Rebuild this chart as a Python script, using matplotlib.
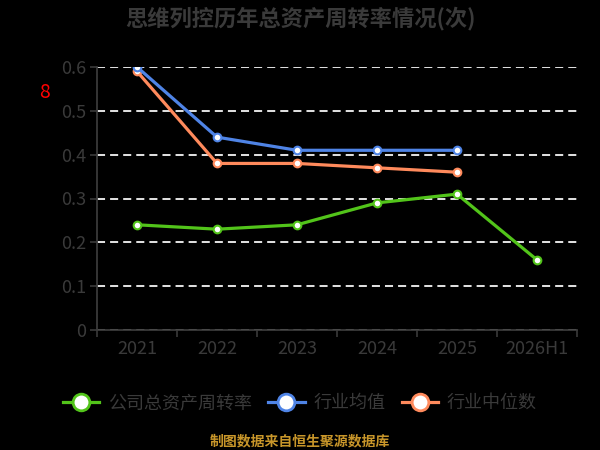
import matplotlib
matplotlib.use("Agg")
import matplotlib.pyplot as plt
from matplotlib.lines import Line2D

plt.rcParams['font.family'] = ['Noto Sans CJK SC', 'DejaVu Sans']

# data
years = ['2021', '2022', '2023', '2024', '2025', '2026H1']
company = [0.24, 0.23, 0.24, 0.29, 0.31, 0.16]
industry_avg = [0.60, 0.44, 0.41, 0.41, 0.41]
industry_median = [0.59, 0.38, 0.38, 0.37, 0.36]

title = '思维列控历年总资产周转率情况(次)'
names = ['公司总资产周转率', '行业均值', '行业中位数']
colors = ['#52c41a', '#4f84e6', '#ff8a5c']
source = '制图数据来自恒生聚源数据库'

text_color = '#3a3a3a'
bg = 'black'

fig = plt.figure(figsize=(6, 4.5), dpi=100, facecolor=bg)
ax = fig.add_axes([97 / 600, 1 - 330 / 450, 480 / 600, 263 / 450])
ax.set_facecolor(bg)

x_all = list(range(len(years)))
series = [company, industry_avg, industry_median]
# green below, blue on top
for vals, col, z in zip(series, colors, [3, 5, 4]):
    xs = x_all[:len(vals)]
    ax.plot(xs, vals, '-', color=col, lw=2.3, marker='o', ms=5.5,
            mfc='white', mec=col, mew=1.5, zorder=z)

ax.set_xlim(-0.5, len(years) - 0.5)
ax.set_ylim(0, 0.6)
ax.set_yticks([0, 0.1, 0.2, 0.3, 0.4, 0.5, 0.6])
ax.set_yticklabels(['0', '0.1', '0.2', '0.3', '0.4', '0.5', '0.6'])
ax.set_xticks([i - 0.5 for i in range(len(years) + 1)])
ax.set_xticklabels([])
ax.set_xticks(x_all, minor=True)
ax.set_xticklabels(years, minor=True)
ax.tick_params(axis='x', which='major', length=5, color=text_color, width=1.2)
ax.tick_params(axis='x', which='minor', length=0, pad=7, labelsize=13,
               labelcolor=text_color)
ax.tick_params(axis='y', length=5, color=text_color, width=1.2, labelsize=13,
               labelcolor=text_color, pad=3)
for lab in ax.get_xticklabels(minor=True) + ax.get_yticklabels():
    lab.set_fontweight('medium')

ax.grid(axis='y', color='#dddddd', ls=(0, (4, 2.5)), lw=1.45, zorder=1)
for s in ['top', 'right']:
    ax.spines[s].set_visible(False)
for s in ['left', 'bottom']:
    ax.spines[s].set_color(text_color)
    ax.spines[s].set_linewidth(1.3)

fig.text(0.5, 1 - 18 / 450, title, ha='center', va='center', fontsize=16,
         fontweight='bold', color=text_color)
fig.text(45 / 600, 1 - 93 / 450, '8', ha='center', va='center', fontsize=14,
         color='red')

handles = [Line2D([0], [0], color=c, lw=2.3, marker='o', ms=12, mfc='white',
                  mec=c, mew=2) for c in colors]
leg = fig.legend(handles, names, loc='center', bbox_to_anchor=(0.5, 1 - 403 / 450),
                 ncol=3, frameon=False, fontsize=13, labelcolor=text_color,
                 handlelength=2.0, handletextpad=0.5, columnspacing=0.9)
for t in leg.get_texts():
    t.set_fontweight('medium')

fig.text(0.5, 1 - 441 / 450, source, ha='center', va='center', fontsize=10,
         fontweight='bold', color='#c8962a')

fig.savefig('out.png', dpi=100, facecolor=bg)
